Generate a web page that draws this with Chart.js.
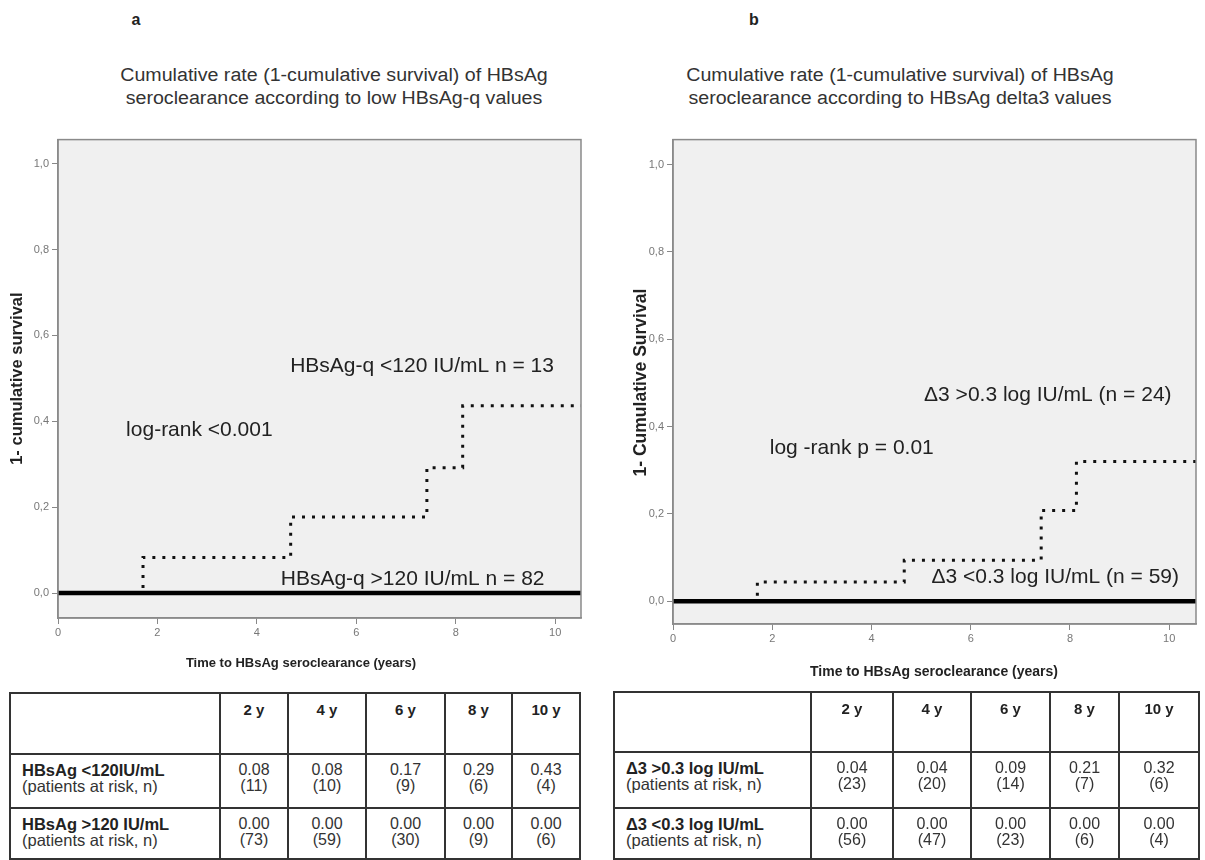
<!DOCTYPE html>
<html><head><meta charset="utf-8">
<script src="https://cdn.jsdelivr.net/npm/chart.js@4.4.1/dist/chart.umd.min.js"></script>
<style>
html,body{margin:0;padding:0;background:#fff;}
body{width:1205px;height:860px;position:relative;overflow:hidden;font-family:"Liberation Sans",Arial,sans-serif;color:#222;}
.t{position:absolute;white-space:nowrap;line-height:1;}
canvas{position:absolute;}
.ln{position:absolute;background:#333;}
</style></head><body>
<canvas id="cA" width="600" height="560" style="left:0px;top:130px;width:600px;height:560px"></canvas>
<canvas id="cB" width="595" height="570" style="left:610px;top:130px;width:595px;height:570px"></canvas>
<script>
// ---------------- data ----------------
const xTicks = [0, 2, 4, 6, 8, 10];
const yTicks = [0, 0.2, 0.4, 0.6, 0.8, 1.0];

// panel a
const timeA_low = [0, 1.71, 4.68, 7.42, 8.14, 10.52];      // HBsAg-q <120 IU/mL
const rateA_low = [0, 0.083, 0.177, 0.292, 0.436, 0.436];
const timeA_high = [0, 10.52];                              // HBsAg-q >120 IU/mL
const rateA_high = [0, 0];

// panel b
const timeB_high = [0, 1.70, 4.66, 7.42, 8.13, 10.54];     // delta3 >0.3
const rateB_high = [0, 0.044, 0.094, 0.208, 0.32, 0.32];
const timeB_low = [0, 10.54];                               // delta3 <0.3
const rateB_low = [0, 0];

// annotations (data coordinates)
const annA_text = ['HBsAg-q <120 IU/mL n = 13', 'log-rank <0.001', 'HBsAg-q >120 IU/mL n = 82'];
const annA_x = [4.67, 1.37, 4.48];
const annA_y = [0.528, 0.379, 0.032];
const annB_text = ['\u03943 >0.3 log IU/mL (n = 24)', 'log -rank p = 0.01', '\u03943 <0.3 log IU/mL (n = 59)'];
const annB_x = [5.06, 1.95, 5.21];
const annB_y = [0.471, 0.35, 0.055];

// tables
const tableYears = ['2 y', '4 y', '6 y', '8 y', '10 y'];
const tabA_row1_label = 'HBsAg <120IU/mL';
const tabA_row1_rate = ['0.08', '0.08', '0.17', '0.29', '0.43'];
const tabA_row1_risk = ['(11)', '(10)', '(9)', '(6)', '(4)'];
const tabA_row2_label = 'HBsAg >120 IU/mL';
const tabA_row2_rate = ['0.00', '0.00', '0.00', '0.00', '0.00'];
const tabA_row2_risk = ['(73)', '(59)', '(30)', '(9)', '(6)'];
const tabB_row1_label = '\u03943 >0.3 log IU/mL';
const tabB_row1_rate = ['0.04', '0.04', '0.09', '0.21', '0.32'];
const tabB_row1_risk = ['(23)', '(20)', '(14)', '(7)', '(6)'];
const tabB_row2_label = '\u03943 <0.3 log IU/mL';
const tabB_row2_rate = ['0.00', '0.00', '0.00', '0.00', '0.00'];
const tabB_row2_risk = ['(56)', '(47)', '(23)', '(6)', '(4)'];
const riskLabel = '(patients at risk, n)';

// ---------------- helpers ----------------
const FAM = '"Liberation Sans", Arial, sans-serif';
function text(str, x, y, o) {
  o = o || {};
  const d = document.createElement('div');
  d.className = 't';
  d.textContent = str;
  d.style.fontSize = (o.size || 16) + 'px';
  d.style.fontWeight = o.bold ? 'bold' : 'normal';
  d.style.color = o.color || '#222';
  d.style.left = x + 'px';
  d.style.top = y + 'px';
  const sx = o.sx || 1;
  if (o.align === 'center') {
    d.style.transformOrigin = 'center center';
    d.style.transform = 'translate(-50%,-50%) scaleX(' + sx + ')';
  } else {
    d.style.transformOrigin = 'left center';
    d.style.transform = 'translate(0,-50%) scaleX(' + sx + ')';
  }
  document.body.appendChild(d);
  return d;
}
function line(x, y, w, h) {
  const d = document.createElement('div');
  d.className = 'ln';
  d.style.left = x + 'px'; d.style.top = y + 'px';
  d.style.width = w + 'px'; d.style.height = h + 'px';
  document.body.appendChild(d);
}
function table(cols, rows, years, body) {
  const lw = 1.5;
  for (const c of cols) line(c - lw / 2, rows[0] - lw / 2, lw, rows[rows.length - 1] - rows[0] + lw);
  for (const r of rows) line(cols[0] - lw / 2, r - lw / 2, cols[cols.length - 1] - cols[0] + lw, lw);
  years.forEach((y, i) => text(y, (cols[i + 1] + cols[i + 2]) / 2, rows[0] + 16, {size: 15, bold: true, align: 'center'}));
  body.forEach((row, r) => {
    const top = rows[r + 1];
    text(row.label, cols[0] + 12, top + 16, {size: 16.5, bold: true});
    text(riskLabel, cols[0] + 12, top + 32, {size: 16.5, color: '#333'});
    row.rate.forEach((v, i) => {
      const cx = (cols[i + 1] + cols[i + 2]) / 2;
      text(v, cx, top + 16, {size: 16, align: 'center', color: '#333'});
      text(row.risk[i], cx, top + 32, {size: 16, align: 'center', color: '#333'});
    });
  });
}

// ---------------- page text ----------------
text('a', 136, 20, {size: 16, bold: true, align: 'center'});
text('b', 754, 20, {size: 16, bold: true, align: 'center'});
text('Cumulative rate (1-cumulative survival) of HBsAg', 334, 75, {size: 18, align: 'center', color: '#333', sx: 1.09});
text('seroclearance according to low HBsAg-q values', 334, 98, {size: 18, align: 'center', color: '#333', sx: 1.09});
text('Cumulative rate (1-cumulative survival) of HBsAg', 900, 75, {size: 18, align: 'center', color: '#333', sx: 1.09});
text('seroclearance according to HBsAg delta3 values', 900, 98, {size: 18, align: 'center', color: '#333', sx: 1.09});

table([10, 220, 288, 366, 445, 512, 580], [693, 754, 808, 859], tableYears, [
  {label: tabA_row1_label, rate: tabA_row1_rate, risk: tabA_row1_risk},
  {label: tabA_row2_label, rate: tabA_row2_rate, risk: tabA_row2_risk}
]);
table([614, 811, 893, 971, 1050, 1119, 1199], [692, 752, 808, 859], tableYears, [
  {label: tabB_row1_label, rate: tabB_row1_rate, risk: tabB_row1_risk},
  {label: tabB_row2_label, rate: tabB_row2_rate, risk: tabB_row2_risk}
]);

// ---------------- charts ----------------
const decor = {
  id: 'kmDecor',
  beforeDraw(chart, args, o) {
    const a = chart.chartArea, c = chart.ctx;
    c.save(); c.fillStyle = '#f0f0f0';
    c.fillRect(a.left, a.top, a.right - a.left, a.bottom - a.top);
    c.restore();
  },
  afterDraw(chart, args, o) {
    const a = chart.chartArea, c = chart.ctx;
    const xs = chart.scales.x, ys = chart.scales.y;
    c.save();
    c.strokeStyle = '#8a8a8a'; c.lineWidth = 1.5;
    c.strokeRect(a.left, a.top, a.right - a.left, a.bottom - a.top);
    // annotations
    c.fillStyle = '#222'; c.textBaseline = 'middle'; c.textAlign = 'left';
    c.font = o.annSize + 'px ' + FAM;
    o.annText.forEach((t, i) => c.fillText(t, xs.getPixelForValue(o.annX[i]), ys.getPixelForValue(o.annY[i])));
    // axis titles
    c.textAlign = 'center';
    c.font = 'bold ' + o.xTitleSize + 'px ' + FAM;
    c.fillText(o.xTitle, a.left + o.xTitleDx, a.bottom + o.xTitleDy);
    c.translate(a.left - o.yTitleDx, a.top + o.yTitleDy);
    c.rotate(-Math.PI / 2);
    c.font = 'bold ' + o.yTitleSize + 'px ' + FAM;
    c.fillText(o.yTitle, 0, 0);
    c.restore();
  }
};
const xy = (xs, ys) => xs.map((x, i) => ({x: x, y: ys[i]}));

function makeKM(id, p) {
  return new Chart(document.getElementById(id), {
    type: 'scatter',
    data: {datasets: [
      {data: xy(p.solidX, p.solidY), showLine: true, borderColor: '#000', borderWidth: 4.5, pointRadius: 0, order: 1},
      {data: xy(p.dotX, p.dotY), showLine: true, stepped: true, borderColor: '#111', borderWidth: 3,
       borderDash: [3, 7], borderCapStyle: 'butt', pointRadius: 0, order: 2}
    ]},
    options: {
      responsive: false, animation: false, devicePixelRatio: 1,
      layout: {padding: {top: p.padTop, right: p.padRight, left: 0, bottom: 0}},
      plugins: {legend: {display: false}, tooltip: {enabled: false}, kmDecor: p.decor},
      scales: {
        x: {type: 'linear', min: 0, max: p.xMax,
            afterBuildTicks: s => { s.ticks = xTicks.map(v => ({value: v})); },
            afterFit: s => { s.height = p.xAxisH; },
            ticks: {font: {size: 11, family: FAM}, color: '#777', padding: 2, maxRotation: 0, callback: v => String(v)},
            grid: {drawOnChartArea: false, tickLength: 6, color: '#888'},
            border: {color: '#8a8a8a', width: 1.5}},
        y: {type: 'linear', min: p.yMin, max: p.yMax,
            afterBuildTicks: s => { s.ticks = yTicks.map(v => ({value: v})); },
            afterFit: s => { s.width = p.yAxisW; },
            ticks: {font: {size: 11, family: FAM}, color: '#777', padding: 3, callback: v => v.toFixed(1).replace('.', ',')},
            grid: {drawOnChartArea: false, tickLength: 6, color: '#888'},
            border: {color: '#8a8a8a', width: 1.5}}
      }
    },
    plugins: [decor]
  });
}

makeKM('cA', {
  solidX: timeA_high, solidY: rateA_high, dotX: timeA_low, dotY: rateA_low,
  xMax: 10.52, yMin: -0.058, yMax: 1.056, padTop: 8, padRight: 19, xAxisH: 72, yAxisW: 58,
  decor: {annText: annA_text, annX: annA_x, annY: annA_y, annSize: 21,
          xTitle: 'Time to HBsAg seroclearance (years)', xTitleSize: 13, xTitleDx: 243, xTitleDy: 45,
          yTitle: '1- cumulative survival', yTitleSize: 16.5, yTitleDx: 41, yTitleDy: 239}
});
makeKM('cB', {
  solidX: timeB_low, solidY: rateB_low, dotX: timeB_high, dotY: rateB_high,
  xMax: 10.54, yMin: -0.052, yMax: 1.057, padTop: 7, padRight: 9, xAxisH: 76, yAxisW: 63,
  decor: {annText: annB_text, annX: annB_x, annY: annB_y, annSize: 21,
          xTitle: 'Time to HBsAg seroclearance (years)', xTitleSize: 14, xTitleDx: 261, xTitleDy: 48,
          yTitle: '1- Cumulative Survival', yTitleSize: 17.5, yTitleDx: 32, yTitleDy: 243}
});
</script>
</body></html>
